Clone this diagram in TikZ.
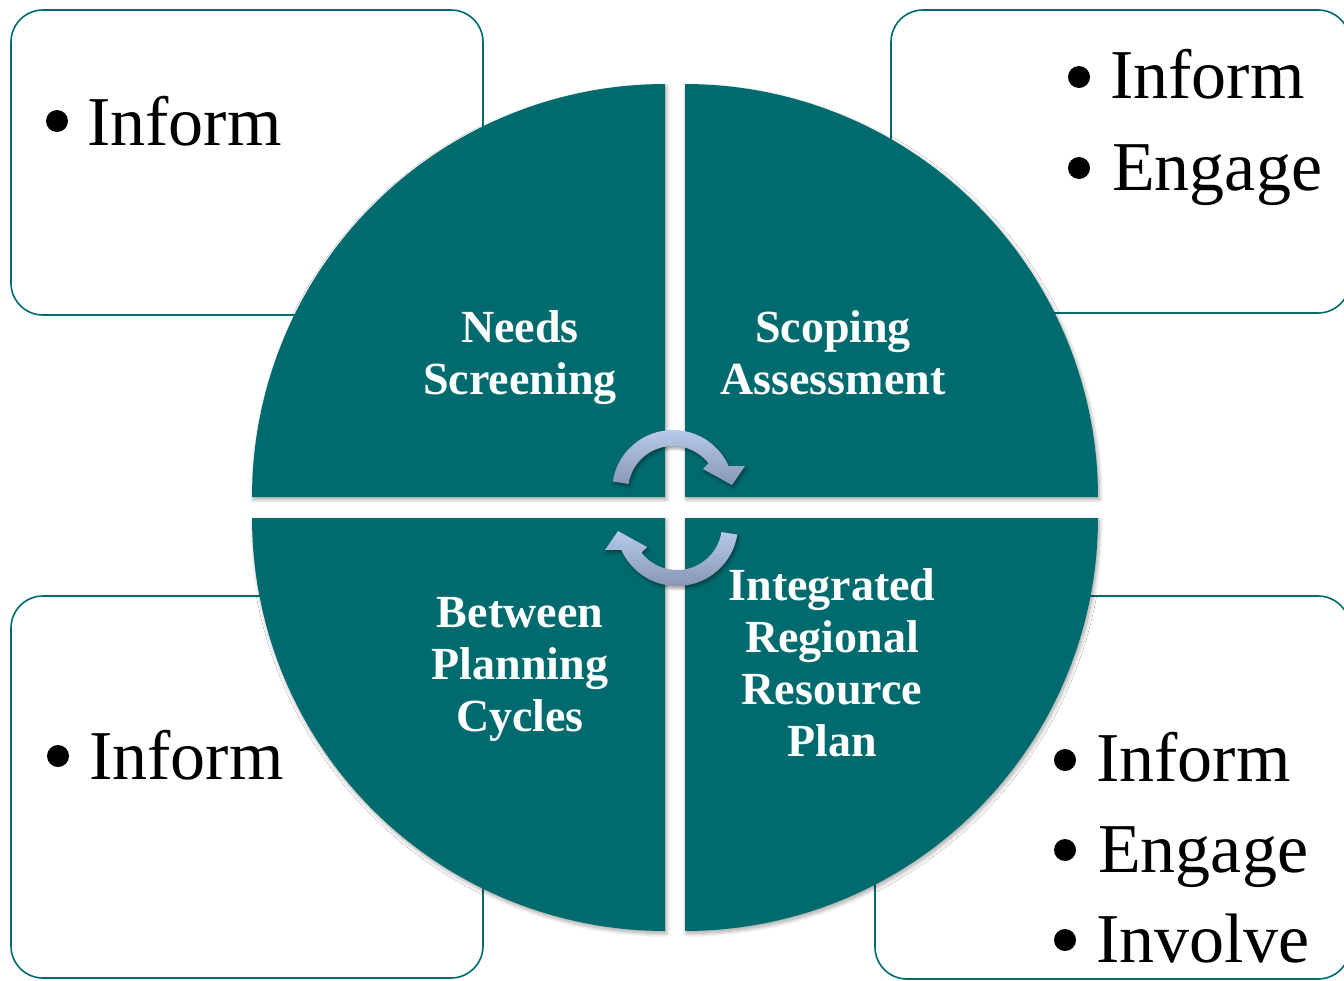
\documentclass[tikz,border=0pt]{standalone}
\usepackage{fontspec}
\setmainfont{Liberation Serif}
\usetikzlibrary{shadows.blur}
\definecolor{tealq}{HTML}{006B6E}
\definecolor{arrLight}{HTML}{B6C9E8}
\definecolor{arrDark}{HTML}{8797B5}
\begin{document}
\begin{tikzpicture}[x=1pt,y=-1pt,
  box/.style={draw=tealq, line width=1.6pt, fill=white, rounded corners=32pt},
  quad/.style={fill=tealq, blur shadow={shadow xshift=1.5pt, shadow yshift=-2.5pt, shadow blur steps=8, shadow opacity=35, shadow blur radius=4pt}},
  arr/.style={top color=arrLight, bottom color=arrDark, blur shadow={shadow xshift=1.5pt, shadow yshift=-2.5pt, shadow blur steps=6, shadow opacity=40, shadow blur radius=3pt}},
  lbl/.style={text=white, font=\fontsize{46}{52}\selectfont\bfseries, anchor=base, inner sep=0pt},
  bul/.style={font=\fontsize{70}{84}\selectfont, anchor=base west, inner sep=0pt},
  dot/.style={circle, fill=black, minimum size=22pt, inner sep=0pt}
]
\useasboundingbox (0,0) rectangle (1344,980);
% side boxes
\draw[box] (11,10) rectangle (483,315);
\draw[box] (891,10) rectangle (1350,313);
\draw[box] (11,596) rectangle (483,978);
\draw[box] (875,596) rectangle (1350,979);
% quadrants
\path[quad] (665,497) -- plot[domain=180:270, samples=80] ({665+413*cos(\x)},{497+413*sin(\x)}) -- cycle;
\path[quad] (685,497) -- plot[domain=270:360, samples=80] ({685+413*cos(\x)},{497+413*sin(\x)}) -- cycle;
\path[quad] (685,518) -- plot[domain=0:90, samples=80] ({685+413*cos(\x)},{518+413*sin(\x)}) -- cycle;
\path[quad] (665,518) -- plot[domain=90:180, samples=80] ({665+413*cos(\x)},{518+413*sin(\x)}) -- cycle;
% cycle arrows
\path[arr] plot[domain=189:336, samples=60] ({673+61*cos(\x)},{491+61*sin(\x)}) -- (745,466) -- (732,485) -- (703,469) -- plot[domain=322:189, samples=60] ({673+45*cos(\x)},{491+45*sin(\x)}) -- cycle;
\path[arr] plot[domain=9:156, samples=60] ({677+61*cos(\x)},{525+61*sin(\x)}) -- (605,550) -- (618,531) -- (647,547) -- plot[domain=142:9, samples=60] ({677+45*cos(\x)},{525+45*sin(\x)}) -- cycle;
% quadrant labels
\node[lbl] (ns1) at (520,342) {Needs};
\node[lbl] (ns2) at (520,394) {Screening};
\node[lbl] (sa1) at (833,342) {Scoping};
\node[lbl] (sa2) at (833,394) {Assessment};
\node[lbl] (bp1) at (520,627) {Between};
\node[lbl] (bp2) at (520,679) {Planning};
\node[lbl] (bp3) at (520,731) {Cycles};
\node[lbl] (ir1) at (832,600) {Integrated};
\node[lbl] (ir2) at (832,652) {Regional};
\node[lbl] (ir3) at (832,704) {Resource};
\node[lbl] (ir4) at (832,756) {Plan};
% bullets
\node[dot] (d1) at (57,121) {};
\node[bul] (t1) at (87,145) {Inform};
\node[dot] (d2) at (1079,77) {};
\node[bul] (t2) at (1110,98) {Inform};
\node[dot] (d3) at (1079,168) {};
\node[bul] (t3) at (1112,190) {Engage};
\node[dot] (d4) at (58,756) {};
\node[bul] (t4) at (89,779) {Inform};
\node[dot] (d5) at (1065,760) {};
\node[bul] (t5) at (1096,781) {Inform};
\node[dot] (d6) at (1065,850) {};
\node[bul] (t6) at (1098,872) {Engage};
\node[dot] (d7) at (1065,940) {};
\node[bul] (t7) at (1096,962) {Involve};
\end{tikzpicture}
\end{document}
